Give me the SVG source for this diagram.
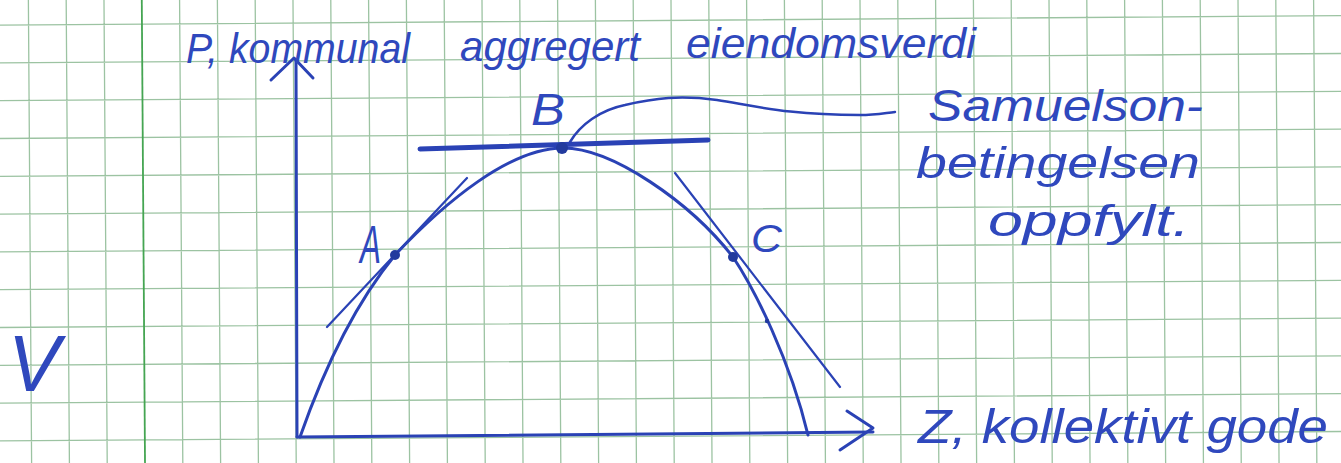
<svg xmlns="http://www.w3.org/2000/svg" width="1341" height="463" viewBox="0 0 1341 463">
<style>
.grid{stroke:#9cc3a2;stroke-width:1.3;fill:none}
.margin{stroke:#45a552;stroke-width:1.8;fill:none}
.ink{stroke:#2a42b5;fill:none;stroke-linecap:round;stroke-linejoin:round}
.dot{fill:#223a9e}
.hw{font-family:"Liberation Sans","DejaVu Sans",sans-serif;font-style:italic;fill:#2f48bd}
</style>
<rect width="1341" height="463" fill="#ffffff"/>
<g id="paper" transform="rotate(-0.4 670 230)">
<path class="grid" d="M-45.6,-60V520M-7.8,-60V520M30,-60V520M67.8,-60V520M105.6,-60V520M181.2,-60V520M219,-60V520M256.8,-60V520M294.6,-60V520M332.4,-60V520M370.2,-60V520M408,-60V520M445.8,-60V520M483.6,-60V520M521.4,-60V520M559.2,-60V520M597,-60V520M634.8,-60V520M672.6,-60V520M710.4,-60V520M748.2,-60V520M786,-60V520M823.8,-60V520M861.6,-60V520M899.4,-60V520M937.2,-60V520M975,-60V520M1012.8,-60V520M1050.6,-60V520M1088.4,-60V520M1126.2,-60V520M1164,-60V520M1201.8,-60V520M1239.6,-60V520M1277.4,-60V520M1315.2,-60V520M1353,-60V520M1390.8,-60V520
M-60,-17.4H1410M-60,20.4H1410M-60,58.2H1410M-60,96H1410M-60,133.8H1410M-60,171.6H1410M-60,209.4H1410M-60,247.2H1410M-60,285H1410M-60,322.8H1410M-60,360.6H1410M-60,398.4H1410M-60,436.2H1410M-60,474H1410"/>
<path class="margin" d="M143.4,-60V520"/>
</g>
<g id="connectors">
<path id="y-axis" class="ink" stroke-width="3" d="M296,60 L297,437"/>
<path id="y-arrow" class="ink" stroke-width="3" d="M271,80 L294,58 L313,78"/>
<path id="x-axis" class="ink" stroke-width="3" d="M297,437 L873,432"/>
<path id="x-arrow" class="ink" stroke-width="3" d="M847,411 L873,428 L840,450"/>
<path id="curve" class="ink" stroke-width="3" d="M300,437 C320,380 350,310 395,255 C445,202 510,148 563,148 C612,148 690,202 733,257 C755,290 790,360 808,435"/>
<path id="tangent-a" class="ink" stroke-width="2.2" d="M327,327 L467,178"/>
<path id="tangent-b" class="ink" stroke-width="5" d="M420,149 L708,140"/>
<path id="tangent-c" class="ink" stroke-width="2.2" d="M675,173 L840,387"/>
<path id="b-callout" class="ink" stroke-width="2.5" d="M570,142 C580,125 600,110 625,105 C655,98 680,95 717,100 C760,107 790,115 860,115 C875,115 885,113 895,112"/>
</g>
<g id="point-a">
<circle class="dot" cx="395" cy="255" r="5"/>
<text class="hw" x="360" y="263" font-size="54" textLength="21" lengthAdjust="spacingAndGlyphs">A</text>
</g>
<g id="point-b">
<circle class="dot" cx="562" cy="148" r="6"/>
<text class="hw" x="531" y="125" font-size="44" textLength="34" lengthAdjust="spacingAndGlyphs">B</text>
</g>
<g id="point-c">
<circle class="dot" cx="733" cy="257" r="5"/>
<circle class="dot" cx="767" cy="321" r="2.2"/>
<text class="hw" x="751" y="252" font-size="38" textLength="31" lengthAdjust="spacingAndGlyphs">C</text>
</g>
<g id="y-label">
<text class="hw" y="63" font-size="42"><tspan x="186" textLength="224" lengthAdjust="spacingAndGlyphs">P, kommunal</tspan><tspan x="460" y="61" textLength="180" lengthAdjust="spacingAndGlyphs">aggregert</tspan><tspan x="686" y="58" textLength="290" lengthAdjust="spacingAndGlyphs">eiendomsverdi</tspan></text>
</g>
<g id="x-label">
<text class="hw" x="918" y="443" font-size="48" textLength="410" lengthAdjust="spacingAndGlyphs">Z, kollektivt gode</text>
</g>
<g id="samuelson-note">
<text class="hw" font-size="44"><tspan x="928" y="121" textLength="275" lengthAdjust="spacingAndGlyphs">Samuelson-</tspan><tspan x="916" y="178" textLength="284" lengthAdjust="spacingAndGlyphs">betingelsen</tspan><tspan x="988" y="236" textLength="202" lengthAdjust="spacingAndGlyphs">oppfylt.</tspan></text>
</g>
<g id="check-mark">
<text class="hw" x="8" y="391" font-size="80" textLength="52" lengthAdjust="spacingAndGlyphs">V</text>
</g>
</svg>
